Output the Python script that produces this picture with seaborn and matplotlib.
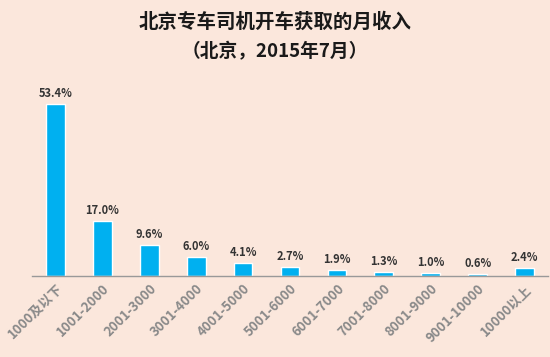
import matplotlib
matplotlib.use("Agg")
import matplotlib.pyplot as plt
import seaborn as sns
import pandas as pd

# data
categories = ["1000及以下", "1001-2000", "2001-3000", "3001-4000", "4001-5000",
              "5001-6000", "6001-7000", "7001-8000", "8001-9000", "9001-10000", "10000以上"]
shares = [53.4, 17.0, 9.6, 6.0, 4.1, 2.7, 1.9, 1.3, 1.0, 0.6, 2.4]

df = pd.DataFrame({"range": categories, "share": shares})

sns.set_style("white")
plt.rcParams["font.family"] = ["Noto Sans CJK SC", "DejaVu Sans"]

bg = "#fbe7dc"
fig = plt.figure(figsize=(5.5, 3.57), dpi=100, facecolor=bg)
ax = fig.add_axes([32 / 550, 1 - 276 / 357, 516 / 550, 193 / 357])
ax.set_facecolor(bg)

sns.barplot(data=df, x="range", y="share", color="#00b0f0", saturation=1,
            width=0.4, ax=ax)

for i, v in enumerate(shares):
    ax.text(i, v + 1.2, f"{v:.1f}%", ha="center", va="bottom",
            fontsize=8, fontweight="bold", color="#333333")

ax.set_ylim(0, 60)
ax.set_xlim(-0.5, 10.5)
ax.set_xlabel("")
ax.set_ylabel("")
ax.set_yticks([])
for s in ["top", "right", "left"]:
    ax.spines[s].set_visible(False)
ax.spines["bottom"].set_color("#999999")
ax.spines["bottom"].set_linewidth(1)
ax.tick_params(axis="x", length=0, pad=4)
plt.setp(ax.get_xticklabels(), rotation=45, ha="right", rotation_mode="anchor",
         fontsize=9.5, color="#8a8a8a", fontweight="bold")

fig.text(0.5, 1 - 22 / 357, "北京专车司机开车获取的月收入", ha="center", va="center",
         fontsize=14, fontweight="bold", color="#1a1a1a")
fig.text(0.5, 1 - 52 / 357, "（北京，2015年7月）", ha="center", va="center",
         fontsize=13.5, fontweight="bold", color="#1a1a1a")

fig.savefig("out.png", dpi=100, facecolor=bg)
